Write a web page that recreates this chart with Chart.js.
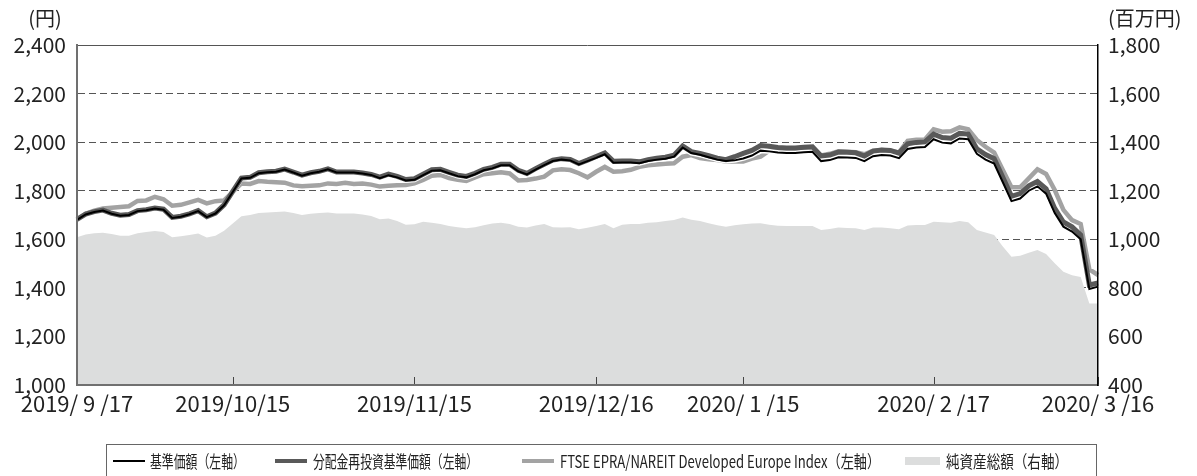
<!DOCTYPE html>
<html><head><meta charset="utf-8">
<script src="https://cdn.jsdelivr.net/npm/chart.js@4"></script>
<style>
html,body{margin:0;padding:0;background:#fff;}
#wrap{position:relative;width:1197px;height:476px;overflow:hidden;}
#c{position:absolute;left:0;top:0;}
#legend{position:absolute;left:106px;top:444px;width:991px;height:42px;border:1px solid #666;box-sizing:border-box;}
.sw{position:absolute;}
.tx{position:absolute;white-space:nowrap;transform-origin:0 50%;line-height:20px;height:20px;font-family:"Noto Sans CJK JP";font-size:17px;color:#222;}
</style></head>
<body><div id="wrap"><canvas id="c" width="1197" height="476"></canvas><div id="legend"></div></div>
<script>
const dates = ['2019/9/17','2019/9/18','2019/9/19','2019/9/20','2019/9/24','2019/9/25','2019/9/26','2019/9/27','2019/9/30',
'2019/10/1','2019/10/2','2019/10/3','2019/10/4','2019/10/7','2019/10/8','2019/10/9','2019/10/10','2019/10/11','2019/10/15','2019/10/16','2019/10/17','2019/10/18','2019/10/21','2019/10/23','2019/10/24','2019/10/25','2019/10/28','2019/10/29','2019/10/30','2019/10/31',
'2019/11/1','2019/11/5','2019/11/6','2019/11/7','2019/11/8','2019/11/11','2019/11/12','2019/11/13','2019/11/14','2019/11/15','2019/11/18','2019/11/19','2019/11/20','2019/11/21','2019/11/22','2019/11/25','2019/11/26','2019/11/27','2019/11/28','2019/11/29',
'2019/12/2','2019/12/3','2019/12/4','2019/12/5','2019/12/6','2019/12/9','2019/12/10','2019/12/11','2019/12/12','2019/12/13','2019/12/16','2019/12/17','2019/12/18','2019/12/19','2019/12/20','2019/12/23','2019/12/24','2019/12/25','2019/12/26','2019/12/27','2019/12/30',
'2020/1/6','2020/1/7','2020/1/8','2020/1/9','2020/1/10','2020/1/14','2020/1/15','2020/1/16','2020/1/17','2020/1/20','2020/1/21','2020/1/22','2020/1/23','2020/1/24','2020/1/27','2020/1/28','2020/1/29','2020/1/30','2020/1/31',
'2020/2/3','2020/2/4','2020/2/5','2020/2/6','2020/2/7','2020/2/10','2020/2/12','2020/2/13','2020/2/14','2020/2/17','2020/2/18','2020/2/19','2020/2/20','2020/2/21','2020/2/25','2020/2/26','2020/2/27','2020/2/28',
'2020/3/2','2020/3/3','2020/3/4','2020/3/5','2020/3/6','2020/3/9','2020/3/10','2020/3/11','2020/3/12','2020/3/13','2020/3/16'];

const tickDates = ['2019/9/17','2019/10/15','2019/11/15','2019/12/16','2020/1/15','2020/2/17','2020/3/16'];
const tickTexts = ['2019/ 9 /17','2019/10/15','2019/11/15','2019/12/16','2020/ 1 /15','2020/ 2 /17','2020/ 3 /16'];

const seriesNames = ['基準価額（左軸）','分配金再投資基準価額（左軸）','FTSE EPRA/NAREIT Developed Europe Index（左軸）','純資産総額（右軸）'];

const nav = [1680,1702,1712,1718,1705,1697,1700,1716,1720,1727,1722,1688,1693,1703,1716,1691,1706,1740,1795,1850,1853,1872,1876,1878,1887,1875,1862,1872,1878,1888,1875,1875,1875,1871,1865,
1852,1864,1855,1842,1845,1864,1882,1884,1872,1860,1855,1868,1884,1892,1905,1905,1880,1867,1887,1905,1922,1928,1925,1908,1922,1935,1950,1915,1916,1916,1913,1922,1928,1932,1940,1978,1955,1948,1938,1928,1922,1925,1933,1945,1965,
1962,1957,1955,1955,1958,1960,1922,1926,1938,1937,1935,1922,1942,1947,1945,1934,1972,1978,1980,
2012,1998,1995,2015,2012,1952,1928,1912,1835,1757,1768,1800,1818,1788,1708,1652,1632,1600,1395,1405];

const navReinvested = [1682,1704,1714,1720,1707,1699,1702,1718,1722,1729,1724,1690,1695,1705,1718,1693,1708,1742,1797,1852,1855,1874,1878,1880,1889,1877,1864,1874,1880,1890,1877,1877,1877,1873,1867,
1856,1868,1859,1846,1849,1868,1886,1888,1876,1864,1859,1872,1888,1896,1909,1909,1884,1871,1891,1909,1926,1932,1929,1912,1926,
1941,1956,1921,1922,1922,1919,1928,1934,1938,1946,1984,1961,1954,1944,1934,1928,
1940,1954,1966,1986,
1983,1978,1976,1976,1979,1981,1943,1947,1959,1958,1956,1943,1963,1968,1966,1955,1993,1999,2001,
2033,2019,2016,2036,2033,1973,1949,1932,1855,1777,1788,1820,1838,1808,1727,1671,1651,1618,1412,1420];

const benchmark = [1680,1705,1718,1727,1730,1733,1736,1758,1760,1775,1765,1738,1742,1752,1762,1748,1757,1760,1795,1830,1828,1840,1837,1835,1833,1822,1818,1820,1822,1830,1828,1833,1828,1830,1825,
1817,1820,1822,1824,1830,1844,1862,1865,1852,1845,1840,1855,1868,1872,1876,1871,1842,1844,1850,1858,1884,1888,1885,1872,1855,1878,1898,1878,1880,1886,1898,1905,1908,1911,1913,1940,1947,1935,1930,1926,1920,1920,1920,1932,1940,
1965,1968,1968,1968,1970,1972,1945,1952,1962,1960,1958,1950,1965,1968,1965,1958,2005,2010,2011,
2053,2043,2045,2061,2053,2009,1981,1957,1885,1814,1814,1851,1888,1869,1803,1721,1679,1663,1476,1453];

const netAssets = [1008,1020,1025,1027,1022,1015,1015,1025,1030,1034,1030,1008,1012,1018,1024,1007,1015,1035,1065,1095,1100,1108,1110,1112,1114,1108,1100,1105,1108,1110,1106,1106,1106,1102,1096,
1082,1086,1075,1060,1062,1072,1068,1063,1055,1050,1045,1050,1058,1065,1068,1063,1052,1049,1057,1063,1050,1049,1050,1041,1048,1055,1063,1045,1060,1063,1063,1068,1070,1075,1079,1090,1080,1075,1066,1058,1052,1058,1062,1065,1066,
1060,1056,1055,1055,1055,1055,1038,1042,1049,1046,1045,1038,1049,1049,1045,1041,1057,1059,1059,1072,1070,1068,1075,1070,1038,1028,1018,970,928,932,945,956,939,901,866,852,845,736,736];

const leftTicks = [1000,1200,1400,1600,1800,2000,2200,2400];
const rightTicks = [400,600,800,1000,1200,1400,1600,1800];

const FONT = '"Noto Sans CJK JP", "Noto Sans", sans-serif';
const fmt = v => v.toLocaleString('en-US');

const AREA = {left:77, right:1098, top:45, bottom:385};

const extras = {
  id:'extras',
  afterDatasetsDraw(chart){
    const ctx = chart.ctx, x = chart.scales.x, a = chart.chartArea;
    ctx.save();
    ctx.strokeStyle = '#444'; ctx.lineWidth = 1;
    tickDates.forEach(d => {
      const i = dates.indexOf(d);
      const px = Math.round(x.getPixelForValue(i)) + 0.5;
      ctx.beginPath(); ctx.moveTo(px, a.bottom); ctx.lineTo(px, a.bottom - 8); ctx.stroke();
    });
    ctx.strokeStyle = '#555'; ctx.lineWidth = 1;
    ctx.beginPath(); ctx.moveTo(a.left, a.top + 0.5); ctx.lineTo(a.right, a.top + 0.5); ctx.stroke();
    ctx.restore();
  },
  afterDraw(chart){
    const ctx = chart.ctx;
    ctx.save();
    ctx.font = '20px ' + FONT; ctx.fillStyle = '#222'; ctx.textBaseline = 'middle';
    ctx.textAlign = 'center'; ctx.fillText('(円)', 45, 18);
    ctx.textAlign = 'left'; ctx.fillText('(百万円)', 1108, 18);
    ctx.restore();
  }
};

new Chart(document.getElementById('c'), {
  type: 'line',
  data: {
    labels: dates,
    datasets: [
      {label: seriesNames[0], data: nav, borderColor:'#000', borderWidth:2, pointRadius:0, tension:0, fill:false, yAxisID:'y', order:1},
      {label: seriesNames[1], data: navReinvested, borderColor:'#595959', borderWidth:5, pointRadius:0, tension:0, fill:false, yAxisID:'y', order:2},
      {label: '_outline', data: nav, borderColor:'#fff', borderWidth:5, pointRadius:0, tension:0, fill:false, yAxisID:'y', order:3},
      {label: seriesNames[2], data: benchmark, borderColor:'#a3a3a3', borderWidth:4.5, pointRadius:0, tension:0, fill:false, yAxisID:'y', order:4},
      {label: seriesNames[3], data: netAssets, borderColor:'#dcdddd', borderWidth:0, backgroundColor:'#dcdddd', pointRadius:0, tension:0, fill:'start', yAxisID:'y1', order:5}
    ]
  },
  options: {
    responsive:false, animation:false, devicePixelRatio:1,
    layout:{padding:{left:0, right:0, top:AREA.top, bottom:0}},
    plugins:{legend:{display:false}, tooltip:{enabled:false}},
    elements:{line:{borderJoinStyle:'miter', borderCapStyle:'butt'}},
    scales:{
      x:{
        type:'category', offset:false,
        grid:{display:false, drawTicks:false},
        border:{display:true, color:'#707070', width:2, z:1},
        ticks:{autoSkip:false, maxRotation:0, minRotation:0, padding:5, color:'#222', font:{family:FONT, size:22},
          callback:(v,i)=>{ const k = tickDates.indexOf(dates[i]); return k>=0 ? tickTexts[k] : null; }},
        afterFit:s=>{ s.height = 476 - AREA.bottom; }
      },
      y:{
        position:'left', min:1000, max:2400,
        afterBuildTicks:s=>{ s.ticks = leftTicks.map(v=>({value:v})); },
        grid:{drawTicks:false, lineWidth:1, color:c=> (c.tick && (c.tick.value===1000||c.tick.value===2400)) ? 'rgba(0,0,0,0)' : '#555'},
        border:{display:true, color:'#707070', width:2, z:1, dash:[7,4]},
        ticks:{padding:11, color:'#222', font:{family:FONT, size:21}, callback:v=>fmt(v)},
        afterFit:s=>{ s.width = AREA.left; }
      },
      y1:{
        position:'right', min:400, max:1800,
        afterBuildTicks:s=>{ s.ticks = rightTicks.map(v=>({value:v})); },
        grid:{drawOnChartArea:false, drawTicks:false},
        border:{display:true, color:'#000', width:1.5, z:1},
        ticks:{padding:10, color:'#222', font:{family:FONT, size:21}, callback:v=>fmt(v)},
        afterFit:s=>{ s.width = 1197 - AREA.right; }
      }
    }
  },
  plugins:[extras]
});

const legendItems = [
  {name:seriesNames[0], kind:'line', color:'#000', thick:2, sx:113, sw:32, tx:150, tw:95},
  {name:seriesNames[1], kind:'line', color:'#595959', thick:4, sx:275, sw:32, tx:313, tw:165},
  {name:seriesNames[2], kind:'line', color:'#a3a3a3', thick:4, sx:522, sw:32, tx:560, tw:320},
  {name:seriesNames[3], kind:'rect', color:'#dcdddd', thick:8, sx:905, sw:35, tx:946, tw:122}
];
const lg = document.getElementById('legend');
const L = 106, T = 444, CY = 461;
legendItems.forEach(it=>{
  const s = document.createElement('div'); s.className='sw';
  s.style.left=(it.sx-L-1)+'px'; s.style.width=it.sw+'px';
  s.style.top=(CY-T-1-it.thick/2)+'px'; s.style.height=it.thick+'px'; s.style.background=it.color;
  lg.appendChild(s);
  const t = document.createElement('div'); t.className='tx'; t.textContent=it.name;
  t.style.left=(it.tx-L-1)+'px'; t.style.top=(CY-T-1-10)+'px';
  lg.appendChild(t);
  const w = t.getBoundingClientRect().width;
  t.style.transform='scaleX('+(it.tw/w)+')';
});
</script></body></html>
